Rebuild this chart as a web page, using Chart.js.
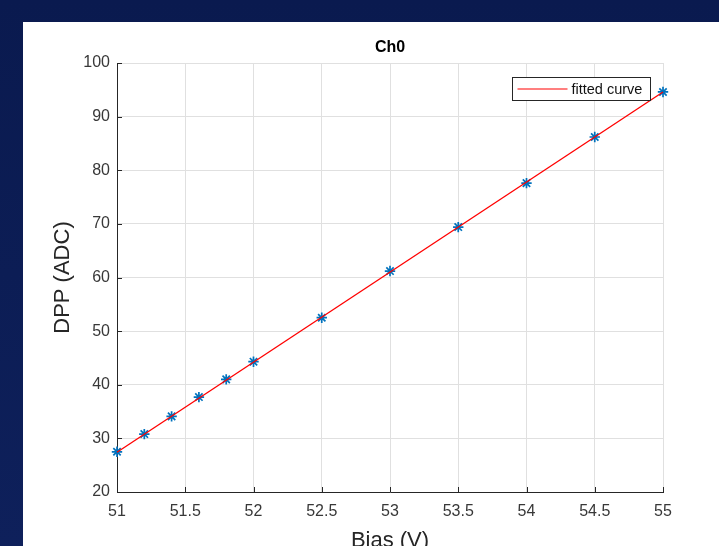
<!DOCTYPE html>
<html><head><meta charset="utf-8">
<script src="https://cdn.jsdelivr.net/npm/chart.js@4.4.1/dist/chart.umd.min.js"></script>
<style>html,body{margin:0;padding:0;background:#0b1b52;overflow:hidden}#wrap{width:719px;height:546px;position:relative}</style>
</head><body>
<div id="wrap"><canvas id="ch0"></canvas></div>
<script>
/* Ch0 bias scan */
const biasV=[51,51.2,51.4,51.6,51.8,52,52.5,53,53.5,54,54.5,55];
const dppAdc=[27.5,30.8,34.1,37.7,41.0,44.3,52.5,61.2,69.4,77.6,86.2,94.6];
const fitBias=[51,55];
const fitDpp=[27.4,94.6];
const xTicks=[51,51.5,52,52.5,53,53.5,54,54.5,55];
const yTicks=[20,30,40,50,60,70,80,90,100];

const FONT='"Liberation Sans", Arial, Helvetica, sans-serif';
const AX='#262626',GRID='#e0e0e0',TXT='#383838';

// dark slide background + white figure panel
const panelBg={id:'panelBg',beforeDraw(c){const x=c.ctx;x.save();
  const g=x.createLinearGradient(0,0,0,c.height);g.addColorStop(0,'#0a1a4f');g.addColorStop(1,'#0e205b');
  x.fillStyle=g;x.fillRect(0,0,c.width,c.height);
  x.fillStyle='#fff';x.fillRect(23,22,c.width-23,c.height-22);x.restore();}};

// matlab style inward ticks
const inTicks={id:'inTicks',afterDraw(c){const x=c.ctx,a=c.chartArea,sx=c.scales.x,sy=c.scales.y;
  x.save();x.strokeStyle=AX;x.lineWidth=1;x.beginPath();
  xTicks.forEach(v=>{const p=Math.round(sx.getPixelForValue(v))+0.5;x.moveTo(p,a.bottom);x.lineTo(p,a.bottom-5);});
  yTicks.forEach(v=>{const p=Math.round(sy.getPixelForValue(v))+0.5;x.moveTo(a.left,p);x.lineTo(a.left+5,p);});
  x.stroke();x.restore();}};

// boxed legend inside axes, only the fit
const fitLegend={id:'fitLegend',afterDraw(c){const x=c.ctx,a=c.chartArea;
  const w=138,h=23,l=Math.round(a.right-13-w)+0.5,t=Math.round(a.top+14)+0.5;
  x.save();x.fillStyle='#fff';x.fillRect(l,t,w,h);x.strokeStyle=AX;x.lineWidth=1;x.strokeRect(l,t,w,h);
  x.strokeStyle='#ff0000';x.lineWidth=1.2;x.beginPath();x.moveTo(l+5,t+h/2);x.lineTo(l+55,t+h/2);x.stroke();
  x.fillStyle='#111';x.font='14.5px '+FONT;x.textBaseline='middle';x.fillText(c.data.datasets[0].label,l+59,t+h/2+0.5);
  x.restore();}};

new Chart(document.getElementById('ch0'),{
  type:'scatter',
  data:{datasets:[
    {label:'fitted curve',type:'line',data:fitBias.map((b,i)=>({x:b,y:fitDpp[i]})),borderColor:'#ff0000',borderWidth:1.3,pointRadius:0,fill:false,tension:0,clip:false},
    {label:'data',data:biasV.map((b,i)=>({x:b,y:dppAdc[i]})),pointStyle:'star',pointRadius:5.2,borderColor:'#0072bd',backgroundColor:'#0072bd',pointBorderWidth:1.7,clip:false}
  ]},
  options:{
    responsive:true,maintainAspectRatio:false,animation:false,devicePixelRatio:1,
    layout:{padding:{left:0,right:56,top:0,bottom:0}},
    plugins:{
      legend:{display:false},tooltip:{enabled:false},
      title:{display:true,text:'Ch0',fullSize:false,color:'#000',font:{family:FONT,size:16,weight:'bold',lineHeight:1.2},padding:{top:38,bottom:5.8}}
    },
    scales:{
      x:{type:'linear',min:51,max:55,
        afterFit:s=>{s.height=54;},
        afterBuildTicks:s=>{s.ticks=xTicks.map(v=>({value:v}));},
        grid:{color:GRID,drawTicks:false},border:{color:AX,width:1},
        ticks:{padding:10,color:TXT,font:{family:FONT,size:16},maxRotation:0,autoSkip:false,callback:v=>String(v)},
        title:{display:true,text:'Bias (V)',color:'#262626',font:{family:FONT,size:22,lineHeight:0.45},padding:0}},
      y:{type:'linear',min:20,max:100,
        afterFit:s=>{s.width=117;},
        afterBuildTicks:s=>{s.ticks=yTicks.map(v=>({value:v}));},
        grid:{color:GRID,drawTicks:false},border:{color:AX,width:1},
        ticks:{padding:7,color:TXT,font:{family:FONT,size:16},autoSkip:false,callback:v=>String(v)},
        title:{display:true,text:'DPP (ADC)',color:'#262626',font:{family:FONT,size:22,lineHeight:1.2},padding:{top:50,bottom:0}}}
    }
  },
  plugins:[panelBg,inTicks,fitLegend]
});
</script>
</body></html>
